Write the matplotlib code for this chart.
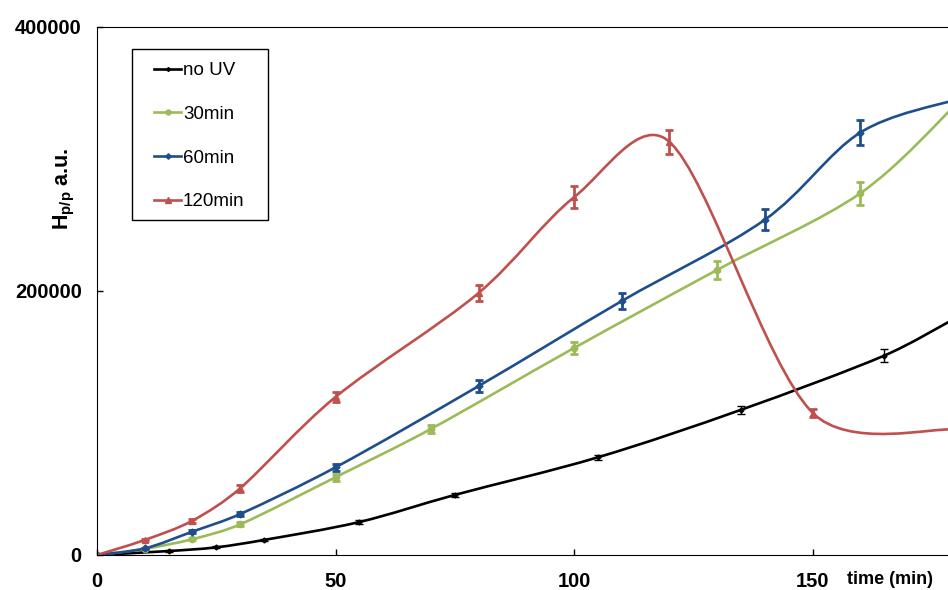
import numpy as np
import matplotlib
matplotlib.use("Agg")
import matplotlib.pyplot as plt
from matplotlib.path import Path
from matplotlib.patches import PathPatch, Rectangle
from matplotlib.lines import Line2D

plt.rcParams['font.family'] = ['Liberation Sans', 'DejaVu Sans']
plt.rcParams['mathtext.fontset'] = 'custom'
plt.rcParams['mathtext.rm'] = 'Liberation Sans'
plt.rcParams['mathtext.bf'] = 'Liberation Sans:bold'

# data
t_nouv = [0, 15, 25, 35, 55, 75, 105, 135, 165, 180]
h_nouv = [0, 3000, 5800, 11400, 25000, 45500, 74000, 110000, 151000, 179500]
e_nouv = [0, 500, 800, 1000, 1200, 1500, 2000, 3200, 5000, 5500]

t_30 = [0, 10, 20, 30, 50, 70, 100, 130, 160, 180]
h_30 = [0, 4700, 12000, 23200, 58900, 95500, 156800, 216000, 274000, 341000]
e_30 = [0, 500, 1000, 1500, 2500, 3000, 4800, 7000, 8700, 9000]

t_60 = [0, 10, 20, 30, 50, 80, 110, 140, 160, 180]
h_60 = [0, 5000, 17700, 31000, 66400, 128000, 192400, 254000, 320000, 345000]
e_60 = [0, 600, 1200, 1800, 2500, 4300, 6300, 8000, 9600, 9800]

t_120 = [0, 10, 20, 30, 50, 80, 100, 120, 150, 180]
h_120 = [0, 11400, 26000, 50500, 119700, 198500, 271000, 313000, 107800, 95000]
e_120 = [0, 800, 1500, 2500, 4000, 6300, 8200, 9000, 3000, 3000]

series = [
    ("no UV", t_nouv, h_nouv, e_nouv, "black", "D", 2.5, 1.0),
    ("30min", t_30, h_30, e_30, "#9BBB59", "o", 4.5, 2.0),
    ("60min", t_60, h_60, e_60, "#1F4E8C", "D", 3.5, 2.0),
    ("120min", t_120, h_120, e_120, "#C0504D", "^", 5, 2.0),
]

XMAX = 178.4
YMAX = 400000


def smooth_patch(ax, xs, ys, color, sx, sy):
    # spreadsheet-like smoothed line: cubic bezier, tangent parallel to the
    # neighbour chord, arm 1/6 of the chord but capped by the segment length
    p = np.column_stack([xs, ys]).astype(float)
    scale = np.array([sx, sy])
    n = len(p)
    verts = [p[0]]
    codes = [Path.MOVETO]

    def arm(a, b, seg):
        v = (b - a) / 6
        ln = np.hypot(*(v * scale))
        lim = 0.36 * np.hypot(*(seg * scale))
        if ln > lim:
            v = v * lim / ln
        return v

    for i in range(n - 1):
        p0 = p[i - 1] if i > 0 else p[i]
        p1 = p[i]
        p2 = p[i + 1]
        p3 = p[i + 2] if i + 2 < n else p[i + 1]
        seg = p2 - p1
        verts += [p1 + arm(p0, p2, seg), p2 - arm(p1, p3, seg), p2]
        codes += [Path.CURVE4] * 3
    patch = PathPatch(Path(verts, codes), facecolor="none", edgecolor=color,
                      lw=1.9, transform=ax.transData)
    ax.add_patch(patch)


fig = plt.figure(figsize=(9.48, 5.9), dpi=100)
ax = fig.add_axes([97 / 948, 35 / 590, 851 / 948, 528 / 590])

# pixels per data unit, used for the smoothing
sx = 851 / XMAX
sy = 528 / YMAX

handles = []
for label, t, h, e, c, m, ms, elw in series:
    smooth_patch(ax, t, h, c, sx, sy)
    ax.errorbar(t, h, yerr=e, fmt="none", ecolor=c, elinewidth=elw,
                capsize=3, capthick=elw)
    ax.plot(t, h, ls="none", marker=m, ms=ms, color=c)
    handles.append(Line2D([], [], color=c, lw=1.9, marker=m, ms=ms * 0.8))

ax.set_xlim(0, XMAX)
ax.set_ylim(0, YMAX)
ax.spines["right"].set_visible(False)
ax.set_xticks([0, 50, 100, 150])
ax.set_yticks([0, 200000, 400000])
ax.set_xticklabels(["0", "50", "100", "150"])
ax.set_yticklabels(["0", "200000", "400000"])
ax.tick_params(direction="in", length=4, labelsize=14.5, width=1)
ax.tick_params(axis="x", pad=12)
ax.tick_params(axis="y", pad=11)
for lab in ax.get_xticklabels() + ax.get_yticklabels():
    lab.set_fontweight("bold")

ax.set_ylabel(r"$\mathbf{H}_{\mathbf{p/p}}$ a.u.", fontsize=15.5, fontweight="bold")
ax.yaxis.set_label_coords(-0.023, 0.693)

fig.text(890 / 948, 1 - 580 / 590, "time (min)", ha="center", va="center",
         fontsize=13, fontweight="bold")

leg = ax.legend(handles, [s[0] for s in series], loc="upper left",
                bbox_to_anchor=(154 / 948, 1 - 62 / 590),
                bbox_transform=fig.transFigure, fontsize=13.5, frameon=False,
                handlelength=1.44, handletextpad=0.1, labelspacing=1.42,
                borderpad=0, borderaxespad=0)
fig.patches.append(Rectangle((132 / 948, 1 - 220 / 590), 136 / 948, 171 / 590,
                             transform=fig.transFigure, fill=False,
                             edgecolor="black", lw=1.0))

fig.savefig("out.png", dpi=100)
